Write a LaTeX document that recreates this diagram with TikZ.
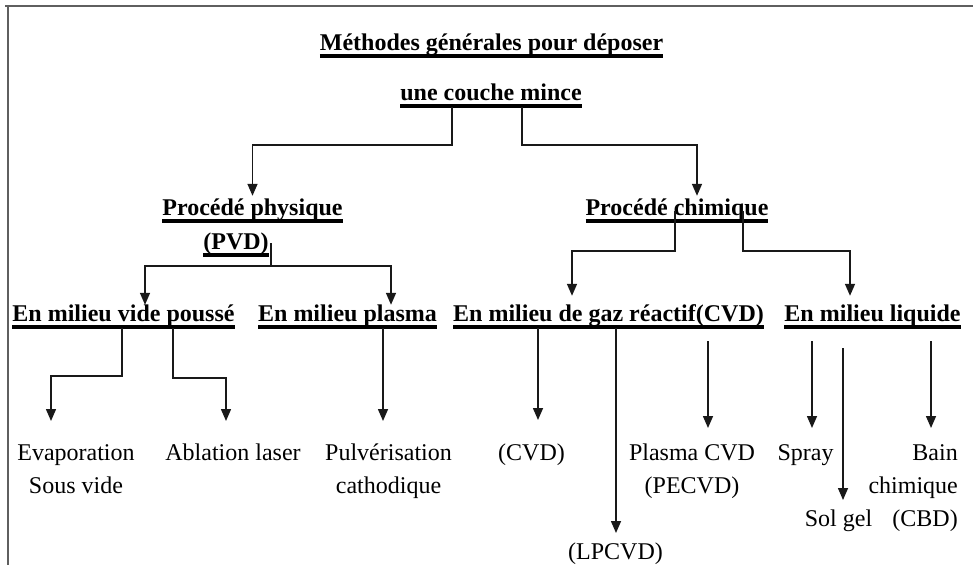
\documentclass[tikz,border=0pt]{standalone}
\usepackage{fontspec}
\setmainfont{Liberation Serif}
\usepackage{tikz}
\usetikzlibrary{
  arrows.meta
}
\definecolor{framegray}{RGB}{95,95,95}
\definecolor{linkgray}{RGB}{25,25,25}
\newcommand{\hul}[1]{\setbox0\hbox{#1}\rlap{\rule[-8pt]{\wd0}{4.5pt}}\box0}

\begin{document}
\begin{tikzpicture}[
  x=1pt, y=-1pt,
  >={Triangle[width=10pt,length=12pt]},
  % --- node styles ---
  hd/.style={
    font=\fontsize{24}{28}\selectfont\bfseries,
    inner sep=0pt, anchor=base, text height=19pt, text depth=7pt
  },
  leaf/.style={
    font=\fontsize{24}{33}\selectfont,
    inner sep=0pt, anchor=north, align=center
  },
  arr/.style={->, line width=1.5pt, linkgray},
  frame/.style={line width=2.5pt, framegray},
]
\useasboundingbox (0,0) rectangle (973,565);

% Frame
\draw[frame] (5,6) -- (973,6);
\draw[frame] (8,6) -- (8,565);

% Row 1: title
\node[hd] (meth) at (491.5,50) {\hul{Méthodes générales pour déposer}};
\node[hd] (couche) at (491,100) {\hul{une couche mince}};

% Row 2: procedes
\node[hd] (phys) at (252.5,215) {\hul{Procédé physique}};
\node[hd] (pvd) at (236,249) {\hul{(PVD)}};
\node[hd] (chim) at (677,215) {\hul{Procédé chimique}};

% Row 3: milieux
\node[hd] (vide) at (123.5,321) {\hul{En milieu vide poussé}};
\node[hd] (plasma) at (347.5,321) {\hul{En milieu plasma}};
\node[hd] (gaz) at (608.5,321) {\hul{En milieu de gaz réactif(CVD)}};
\node[hd] (liq) at (872.5,321) {\hul{En milieu liquide}};

% Row 4: techniques
\node[leaf] (evap) at (76,437) {\strut Evaporation\\Sous vide};
\node[leaf] (abl) at (233,437) {\strut Ablation laser};
\node[leaf] (pulv) at (388.5,437) {\strut Pulvérisation\\cathodique};
\node[leaf] (cvd) at (531.5,437) {\strut(CVD)};
\node[leaf] (pecvd) at (692,437) {\strut Plasma CVD\\(PECVD)};
\node[leaf] (lpcvd) at (615.5,536) {\strut(LPCVD)};
\node[leaf] (spray) at (805.5,437) {\strut Spray};
\node[leaf] (solgel) at (838.5,503) {\strut Sol gel};
\node[leaf, anchor=north east, align=right] (bain) at (958,437) {\strut Bain\\chimique\\(CBD)};

% ─── Arrows ──────────────────────────────────────────────
\draw[arr] ([xshift=-39pt]couche.south) -- ++(0,38) -| (phys.north);
\draw[arr] ([xshift=31pt]couche.south) -- ++(0,38) -| ([xshift=20pt]chim.north);

\draw[arr] ([xshift=2pt]pvd.east) -- ++(0,23) -| ([xshift=21.5pt,yshift=-3pt]vide.north);
\draw[arr] ([xshift=2pt]pvd.east) -- ++(0,23) -| ([xshift=43.5pt,yshift=-3pt]plasma.north);

\draw[arr, shorten >=6pt] ([xshift=-2pt,yshift=4pt]chim.base) -- ++(0,40) -| ([xshift=-36.5pt]gaz.north);
\draw[arr, shorten >=6pt] ([xshift=66pt,yshift=4pt]chim.base) -- ++(0,40) -| ([xshift=-22.5pt]liq.north);

% techniques
\draw[arr, shorten >=16pt] ([xshift=-1.5pt]vide.south) -- ++(0,48) -| ([xshift=-25pt]evap.north);
\draw[arr, shorten >=16pt] ([xshift=49.5pt]vide.south) -- ++(0,50) -| ([xshift=-7pt]abl.north);
\draw[arr, shorten >=16pt] ([xshift=35.5pt]plasma.south) -- ([xshift=-5.5pt]pulv.north);

\draw[arr, shorten >=17pt] ([xshift=-70.5pt]gaz.south) -- ([xshift=6.5pt]cvd.north);
\draw[arr, shorten >=3pt] ([xshift=7.5pt]gaz.south) -- ([xshift=0.5pt]lpcvd.north);
\draw[arr, shorten >=9pt] ([xshift=99.5pt,yshift=-13pt]gaz.south) -- ([xshift=16pt]pecvd.north);

\draw[arr, shorten >=9pt] ([xshift=-60.5pt,yshift=-13pt]liq.south) -- ([xshift=6.5pt]spray.north);
\draw[arr, shorten >=3pt] ([xshift=-29.5pt,yshift=-20pt]liq.south) -- ([xshift=4.5pt]solgel.north);
\draw[arr, shorten >=9pt] ([xshift=58.5pt,yshift=-13pt]liq.south) -- ([xshift=-27pt]bain.north east);

\end{tikzpicture}
\end{document}
